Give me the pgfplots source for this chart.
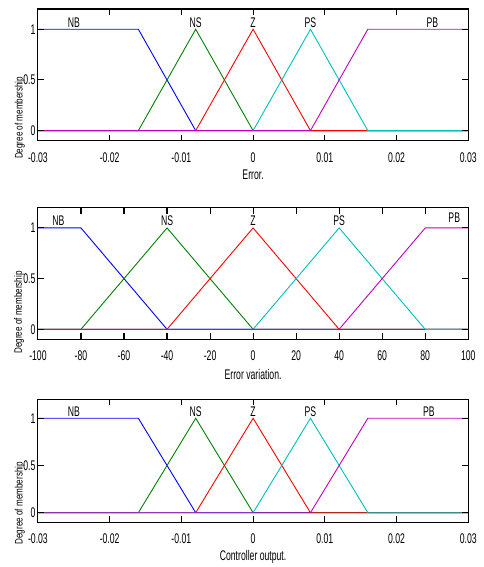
\documentclass[border=0pt]{standalone}
\usepackage{pgfplots}
\pgfplotsset{compat=1.18}
\usepackage{fontspec}
\setmainfont{Liberation Sans}
\newfontfamily\narrow[FakeStretch=0.62]{Liberation Sans}
\newfontfamily\ylfont[FakeStretch=0.75]{Liberation Sans}
\definecolor{mgreen}{rgb}{0,0.5,0}
\definecolor{mcyan}{rgb}{0,0.75,0.75}
\definecolor{mmag}{rgb}{0.75,0,0.75}
\tikzset{lbl/.style={font=\narrow\fontsize{14}{16}\selectfont, anchor=center},
  frm/.style={draw=black, line width=1.1pt}}
\pgfplotsset{
  mf/.style={
    scale only axis, width=431pt,
    ymin=-0.1, ymax=1.2,
    ytick={0,0.5,1}, yticklabels={0,0.5,1},
    tick align=inside, major tick length=6pt,
    xtick pos=both, ytick pos=both,
    axis line style={line width=1.1pt, draw=black},
    every tick/.append style={draw=black, line width=1.1pt},
    tick label style={font=\narrow\fontsize{14}{16}\selectfont},
    xticklabel style={yshift=-8pt},
    yticklabel style={xshift=1pt},
    /pgf/number format/assume math mode=true,
    scaled x ticks=false,
    xlabel style={font=\narrow\fontsize{14}{16}\selectfont, anchor=center},
    ylabel style={anchor=center},
    every axis plot/.append style={line width=0.9pt, mark=none},
    clip=false,
  },
}
\begin{document}
\begin{tikzpicture}
\path (0,0) rectangle (484pt,567pt);
% --- Axis 1: Error ---
\begin{axis}[mf, height=132pt, at={(38pt,426pt)}, anchor=south west,
  xmin=-0.03, xmax=0.03,
  xtick={-0.03,-0.02,-0.01,0,0.01,0.02,0.03},
  xticklabels={-0.03,-0.02,-0.01,0,0.01,0.02,0.03},
  xlabel={Error.}, xlabel style={at={(axis description cs:0.5,-0.258)}},
  ylabel={\ylfont\fontsize{10.8}{12}\selectfont Degree of membership}, ylabel style={at={(axis description cs:-0.042,0.174)}}]
\addplot[blue] coordinates {(-0.03,1) (-0.016,1) (-0.008,0) (0.03,0)};
\addplot[mgreen] coordinates {(-0.03,0) (-0.016,0) (-0.008,1) (0,0) (0.03,0)};
\addplot[red] coordinates {(-0.03,0) (-0.008,0) (0,1) (0.008,0) (0.03,0)};
\addplot[mcyan] coordinates {(-0.03,0) (0,0) (0.008,1) (0.016,0) (0.03,0)};
\addplot[mmag] coordinates {(-0.03,0) (0.008,0) (0.016,1) (0.03,1)};
\draw[frm] (rel axis cs:0,0) rectangle (rel axis cs:1,1);
\pgfplotsinvokeforeach{-0.02,-0.01,0,0.01,0.02}{
  \draw[frm] (axis cs:#1,-0.1) -- (axis cs:#1,-0.041);
  \draw[frm] (axis cs:#1,1.2) -- (axis cs:#1,1.141);}
\pgfplotsinvokeforeach{0,0.5,1}{
  \draw[frm] (axis cs:-0.03,#1) -- (axis cs:-0.029165,#1);
  \draw[frm] (axis cs:0.03,#1) -- (axis cs:0.029165,#1);}
\node[lbl] at (axis cs:-0.025,1.06) {NB};
\node[lbl] at (axis cs:-0.008,1.06) {NS};
\node[lbl] at (axis cs:0,1.06) {Z};
\node[lbl] at (axis cs:0.008,1.06) {PS};
\node[lbl] at (axis cs:0.025,1.06) {PB};
\end{axis}
% --- Axis 2: Error variation ---
\begin{axis}[mf, height=132pt, at={(38pt,227pt)}, anchor=south west,
  xmin=-100, xmax=100,
  xtick={-100,-80,-60,-40,-20,0,20,40,60,80,100},
  xticklabels={-100,-80,-60,-40,-20,0,20,40,60,80,100},
  xlabel={Error variation.}, xlabel style={at={(axis description cs:0.5,-0.265)}},
  ylabel={\ylfont\fontsize{10.8}{12}\selectfont Degree of membership}, ylabel style={at={(axis description cs:-0.044,0.205)}}]
\addplot[blue] coordinates {(-100,1) (-80,1) (-40,0) (100,0)};
\addplot[mgreen] coordinates {(-100,0) (-80,0) (-40,1) (0,0) (100,0)};
\addplot[red] coordinates {(-100,0) (-40,0) (0,1) (40,0) (100,0)};
\addplot[mcyan] coordinates {(-100,0) (0,0) (40,1) (80,0) (100,0)};
\addplot[mmag] coordinates {(-100,0) (40,0) (80,1) (100,1)};
\draw[frm] (rel axis cs:0,0) rectangle (rel axis cs:1,1);
\pgfplotsinvokeforeach{-80,-60,-40,-20,0,20,40,60,80}{
  \draw[frm] (axis cs:#1,-0.1) -- (axis cs:#1,-0.041);
  \draw[frm] (axis cs:#1,1.2) -- (axis cs:#1,1.141);}
\pgfplotsinvokeforeach{0,0.5,1}{
  \draw[frm] (axis cs:-100,#1) -- (axis cs:-97.22,#1);
  \draw[frm] (axis cs:100,#1) -- (axis cs:97.22,#1);}
\node[lbl] at (axis cs:-90.5,1.07) {NB};
\node[lbl] at (axis cs:-40,1.07) {NS};
\node[lbl] at (axis cs:0,1.07) {Z};
\node[lbl] at (axis cs:40,1.07) {PS};
\node[lbl] at (axis cs:93.5,1.1) {PB};
\end{axis}
% --- Axis 3: Controller output ---
\begin{axis}[mf, height=123pt, at={(38pt,44pt)}, anchor=south west,
  xmin=-0.03, xmax=0.03,
  xtick={-0.03,-0.02,-0.01,0,0.01,0.02,0.03},
  xticklabels={-0.03,-0.02,-0.01,0,0.01,0.02,0.03},
  xlabel={Controller output.}, xlabel style={at={(axis description cs:0.5,-0.285)}},
  ylabel={\ylfont\fontsize{10.8}{12}\selectfont Degree of membership}, ylabel style={at={(axis description cs:-0.042,0.154)}}]
\addplot[blue] coordinates {(-0.03,1) (-0.016,1) (-0.008,0) (0.03,0)};
\addplot[mgreen] coordinates {(-0.03,0) (-0.016,0) (-0.008,1) (0,0) (0.03,0)};
\addplot[red] coordinates {(-0.03,0) (-0.008,0) (0,1) (0.008,0) (0.03,0)};
\addplot[mcyan] coordinates {(-0.03,0) (0,0) (0.008,1) (0.016,0) (0.03,0)};
\addplot[mmag] coordinates {(-0.03,0) (0.008,0) (0.016,1) (0.03,1)};
\draw[frm] (rel axis cs:0,0) rectangle (rel axis cs:1,1);
\pgfplotsinvokeforeach{-0.02,-0.01,0,0.01,0.02}{
  \draw[frm] (axis cs:#1,-0.1) -- (axis cs:#1,-0.037);
  \draw[frm] (axis cs:#1,1.2) -- (axis cs:#1,1.137);}
\pgfplotsinvokeforeach{0,0.5,1}{
  \draw[frm] (axis cs:-0.03,#1) -- (axis cs:-0.029165,#1);
  \draw[frm] (axis cs:0.03,#1) -- (axis cs:0.029165,#1);}
\node[lbl] at (axis cs:-0.025,1.07) {NB};
\node[lbl] at (axis cs:-0.008,1.07) {NS};
\node[lbl] at (axis cs:0,1.07) {Z};
\node[lbl] at (axis cs:0.008,1.07) {PS};
\node[lbl] at (axis cs:0.0245,1.07) {PB};
\end{axis}
\end{tikzpicture}
\end{document}
